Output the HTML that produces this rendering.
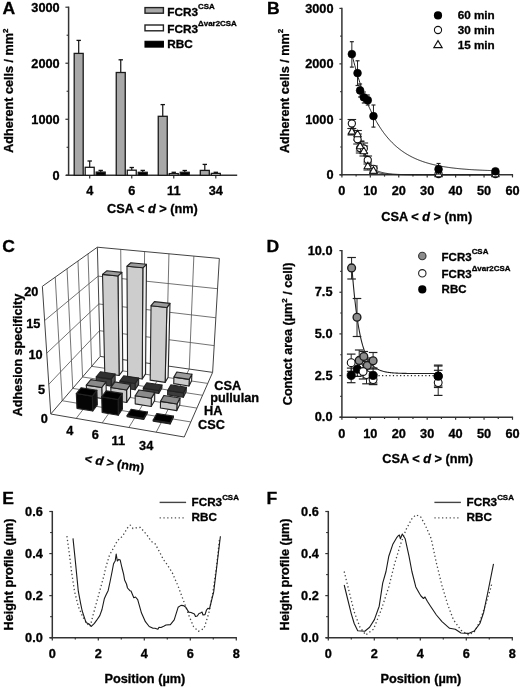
<!DOCTYPE html>
<html><head><meta charset="utf-8"><style>
html,body{margin:0;padding:0;background:#fff;}
svg{display:block;font-family:"Liberation Sans",sans-serif;filter:blur(0.3px);}
</style></head><body>
<svg width="520" height="687" viewBox="0 0 520 687" fill="#000">
<rect width="520" height="687" fill="#fff"/>
<line x1="68.6" y1="6.6" x2="68.6" y2="175.9" stroke="#333" stroke-width="1.5" />
<line x1="66" y1="175.3" x2="237.2" y2="175.3" stroke="#333" stroke-width="1.5" />
<line x1="65.4" y1="175.3" x2="68.6" y2="175.3" stroke="#333" stroke-width="1.2" />
<text transform="translate(59.7,179.7) scale(1.045,1)" font-size="12.2" text-anchor="end" font-weight="bold" stroke="#000" stroke-width="0.3" >0</text>
<line x1="65.4" y1="119.27" x2="68.6" y2="119.27" stroke="#333" stroke-width="1.2" />
<text transform="translate(59.7,123.67) scale(1.045,1)" font-size="12.2" text-anchor="end" font-weight="bold" stroke="#000" stroke-width="0.3" >1000</text>
<line x1="65.4" y1="63.23" x2="68.6" y2="63.23" stroke="#333" stroke-width="1.2" />
<text transform="translate(59.7,67.63) scale(1.045,1)" font-size="12.2" text-anchor="end" font-weight="bold" stroke="#000" stroke-width="0.3" >2000</text>
<line x1="65.4" y1="7.2" x2="68.6" y2="7.2" stroke="#333" stroke-width="1.2" />
<text transform="translate(59.7,11.6) scale(1.045,1)" font-size="12.2" text-anchor="end" font-weight="bold" stroke="#000" stroke-width="0.3" >3000</text>
<line x1="66.6" y1="147.28" x2="68.6" y2="147.28" stroke="#333" stroke-width="1.1" />
<line x1="66.6" y1="91.25" x2="68.6" y2="91.25" stroke="#333" stroke-width="1.1" />
<line x1="66.6" y1="35.22" x2="68.6" y2="35.22" stroke="#333" stroke-width="1.1" />
<line x1="89.7" y1="175.3" x2="89.7" y2="178.6" stroke="#333" stroke-width="1.2" />
<text transform="translate(89.7,195.2) scale(1.045,1)" font-size="12.2" text-anchor="middle" font-weight="bold" stroke="#000" stroke-width="0.3" >4</text>
<line x1="131.75" y1="175.3" x2="131.75" y2="178.6" stroke="#333" stroke-width="1.2" />
<text transform="translate(131.75,195.2) scale(1.045,1)" font-size="12.2" text-anchor="middle" font-weight="bold" stroke="#000" stroke-width="0.3" >6</text>
<line x1="173.75" y1="175.3" x2="173.75" y2="178.6" stroke="#333" stroke-width="1.2" />
<text transform="translate(173.75,195.2) scale(1.045,1)" font-size="12.2" text-anchor="middle" font-weight="bold" stroke="#000" stroke-width="0.3" >11</text>
<line x1="215.8" y1="175.3" x2="215.8" y2="178.6" stroke="#333" stroke-width="1.2" />
<text transform="translate(215.8,195.2) scale(1.045,1)" font-size="12.2" text-anchor="middle" font-weight="bold" stroke="#000" stroke-width="0.3" >34</text>
<line x1="78.7" y1="40.4" x2="78.7" y2="53.4" stroke="#111" stroke-width="1.2" />
<line x1="76.5" y1="40.4" x2="80.9" y2="40.4" stroke="#111" stroke-width="1.3" />
<rect x="74.2" y="53.4" width="9" height="121.9" fill="#a8a8a8" stroke="#1a1a1a" stroke-width="1.3"/>
<line x1="89.7" y1="161" x2="89.7" y2="167.3" stroke="#111" stroke-width="1.2" />
<line x1="87.5" y1="161" x2="91.9" y2="161" stroke="#111" stroke-width="1.3" />
<rect x="85.2" y="167.3" width="9" height="8" fill="#ffffff" stroke="#1a1a1a" stroke-width="1.3"/>
<line x1="100.7" y1="170.4" x2="100.7" y2="172.1" stroke="#111" stroke-width="1.2" />
<line x1="98.5" y1="170.4" x2="102.9" y2="170.4" stroke="#111" stroke-width="1.3" />
<rect x="96.2" y="172.1" width="9" height="3.2" fill="#000000" stroke="#1a1a1a" stroke-width="1.3"/>
<line x1="120.75" y1="59.8" x2="120.75" y2="72.5" stroke="#111" stroke-width="1.2" />
<line x1="118.55" y1="59.8" x2="122.95" y2="59.8" stroke="#111" stroke-width="1.3" />
<rect x="116.25" y="72.5" width="9" height="102.8" fill="#a8a8a8" stroke="#1a1a1a" stroke-width="1.3"/>
<line x1="131.75" y1="167.5" x2="131.75" y2="170.2" stroke="#111" stroke-width="1.2" />
<line x1="129.55" y1="167.5" x2="133.95" y2="167.5" stroke="#111" stroke-width="1.3" />
<rect x="127.25" y="170.2" width="9" height="5.1" fill="#ffffff" stroke="#1a1a1a" stroke-width="1.3"/>
<line x1="142.75" y1="170.4" x2="142.75" y2="172.3" stroke="#111" stroke-width="1.2" />
<line x1="140.55" y1="170.4" x2="144.95" y2="170.4" stroke="#111" stroke-width="1.3" />
<rect x="138.25" y="172.3" width="9" height="3" fill="#000000" stroke="#1a1a1a" stroke-width="1.3"/>
<line x1="162.75" y1="104.6" x2="162.75" y2="116.3" stroke="#111" stroke-width="1.2" />
<line x1="160.55" y1="104.6" x2="164.95" y2="104.6" stroke="#111" stroke-width="1.3" />
<rect x="158.25" y="116.3" width="9" height="59" fill="#a8a8a8" stroke="#1a1a1a" stroke-width="1.3"/>
<line x1="173.75" y1="172.3" x2="173.75" y2="173.6" stroke="#111" stroke-width="1.2" />
<line x1="171.55" y1="172.3" x2="175.95" y2="172.3" stroke="#111" stroke-width="1.3" />
<rect x="169.25" y="173.6" width="9" height="1.7" fill="#ffffff" stroke="#1a1a1a" stroke-width="1.3"/>
<line x1="184.75" y1="170.5" x2="184.75" y2="172.3" stroke="#111" stroke-width="1.2" />
<line x1="182.55" y1="170.5" x2="186.95" y2="170.5" stroke="#111" stroke-width="1.3" />
<rect x="180.25" y="172.3" width="9" height="3" fill="#000000" stroke="#1a1a1a" stroke-width="1.3"/>
<line x1="204.8" y1="164.4" x2="204.8" y2="170.4" stroke="#111" stroke-width="1.2" />
<line x1="202.6" y1="164.4" x2="207" y2="164.4" stroke="#111" stroke-width="1.3" />
<rect x="200.3" y="170.4" width="9" height="4.9" fill="#a8a8a8" stroke="#1a1a1a" stroke-width="1.3"/>
<line x1="215.8" y1="172.3" x2="215.8" y2="173.4" stroke="#111" stroke-width="1.2" />
<line x1="213.6" y1="172.3" x2="218" y2="172.3" stroke="#111" stroke-width="1.3" />
<rect x="211.3" y="173.4" width="9" height="1.9" fill="#ffffff" stroke="#1a1a1a" stroke-width="1.3"/>
<rect x="145" y="7.6" width="18.4" height="5.6" fill="#a8a8a8" stroke="#222" stroke-width="1.4"/>
<rect x="145" y="25" width="18.4" height="5.8" fill="#fff" stroke="#222" stroke-width="1.4"/>
<rect x="145" y="41.3" width="18.4" height="5.8" fill="#000" stroke="#000" stroke-width="1.1"/>
<text transform="translate(167.2,15.5) scale(1.045,1)" font-size="11.3" text-anchor="start" font-weight="bold" stroke="#000" stroke-width="0.3" >FCR3<tspan dy="-6.6" font-size="7.6">CSA</tspan></text>
<text transform="translate(167.2,32.7) scale(1.045,1)" font-size="11.3" text-anchor="start" font-weight="bold" stroke="#000" stroke-width="0.3" >FCR3<tspan dy="-6.6" font-size="7.6">&#916;var2CSA</tspan></text>
<text transform="translate(167.2,47.7) scale(1.045,1)" font-size="11.3" text-anchor="start" font-weight="bold" stroke="#000" stroke-width="0.3" >RBC</text>
<text transform="translate(2.4,13.6) scale(1.045,1)" font-size="16.8" text-anchor="start" font-weight="bold" stroke="#000" stroke-width="0.3" >A</text>
<text transform="translate(13.2,152.8) rotate(-90)" font-size="12.6" font-weight="bold" stroke="#000" stroke-width="0.3">Adherent cells / mm<tspan dy="-5.5" font-size="8">2</tspan></text>
<text transform="translate(152.4,213) scale(1.045,1)" font-size="12.2" text-anchor="middle" font-weight="bold" stroke="#000" stroke-width="0.3" >CSA &lt; <tspan font-style="italic">d</tspan> &gt; (nm)</text>
<line x1="341.9" y1="7.8" x2="341.9" y2="175.4" stroke="#333" stroke-width="1.5" />
<line x1="339.6" y1="174.8" x2="513.08" y2="174.8" stroke="#333" stroke-width="1.5" />
<line x1="339.4" y1="174.8" x2="341.9" y2="174.8" stroke="#333" stroke-width="1.2" />
<text transform="translate(333.5,179.1) scale(1.045,1)" font-size="12.2" text-anchor="end" font-weight="bold" stroke="#000" stroke-width="0.3" >0</text>
<line x1="339.4" y1="119.33" x2="341.9" y2="119.33" stroke="#333" stroke-width="1.2" />
<text transform="translate(333.5,123.63) scale(1.045,1)" font-size="12.2" text-anchor="end" font-weight="bold" stroke="#000" stroke-width="0.3" >1000</text>
<line x1="339.4" y1="63.87" x2="341.9" y2="63.87" stroke="#333" stroke-width="1.2" />
<text transform="translate(333.5,68.17) scale(1.045,1)" font-size="12.2" text-anchor="end" font-weight="bold" stroke="#000" stroke-width="0.3" >2000</text>
<line x1="339.4" y1="8.4" x2="341.9" y2="8.4" stroke="#333" stroke-width="1.2" />
<text transform="translate(333.5,12.7) scale(1.045,1)" font-size="12.2" text-anchor="end" font-weight="bold" stroke="#000" stroke-width="0.3" >3000</text>
<line x1="340.2" y1="147.07" x2="341.9" y2="147.07" stroke="#333" stroke-width="1.1" />
<line x1="340.2" y1="91.6" x2="341.9" y2="91.6" stroke="#333" stroke-width="1.1" />
<line x1="340.2" y1="36.13" x2="341.9" y2="36.13" stroke="#333" stroke-width="1.1" />
<line x1="341.9" y1="174.8" x2="341.9" y2="177.4" stroke="#333" stroke-width="1.2" />
<text transform="translate(341.9,195.2) scale(1.045,1)" font-size="12.2" text-anchor="middle" font-weight="bold" stroke="#000" stroke-width="0.3" >0</text>
<line x1="356.11" y1="174.8" x2="356.11" y2="176.6" stroke="#333" stroke-width="1.2" />
<line x1="370.33" y1="174.8" x2="370.33" y2="177.4" stroke="#333" stroke-width="1.2" />
<text transform="translate(370.33,195.2) scale(1.045,1)" font-size="12.2" text-anchor="middle" font-weight="bold" stroke="#000" stroke-width="0.3" >10</text>
<line x1="384.54" y1="174.8" x2="384.54" y2="176.6" stroke="#333" stroke-width="1.2" />
<line x1="398.76" y1="174.8" x2="398.76" y2="177.4" stroke="#333" stroke-width="1.2" />
<text transform="translate(398.76,195.2) scale(1.045,1)" font-size="12.2" text-anchor="middle" font-weight="bold" stroke="#000" stroke-width="0.3" >20</text>
<line x1="412.97" y1="174.8" x2="412.97" y2="176.6" stroke="#333" stroke-width="1.2" />
<line x1="427.19" y1="174.8" x2="427.19" y2="177.4" stroke="#333" stroke-width="1.2" />
<text transform="translate(427.19,195.2) scale(1.045,1)" font-size="12.2" text-anchor="middle" font-weight="bold" stroke="#000" stroke-width="0.3" >30</text>
<line x1="441.4" y1="174.8" x2="441.4" y2="176.6" stroke="#333" stroke-width="1.2" />
<line x1="455.62" y1="174.8" x2="455.62" y2="177.4" stroke="#333" stroke-width="1.2" />
<text transform="translate(455.62,195.2) scale(1.045,1)" font-size="12.2" text-anchor="middle" font-weight="bold" stroke="#000" stroke-width="0.3" >40</text>
<line x1="469.83" y1="174.8" x2="469.83" y2="176.6" stroke="#333" stroke-width="1.2" />
<line x1="484.05" y1="174.8" x2="484.05" y2="177.4" stroke="#333" stroke-width="1.2" />
<text transform="translate(484.05,195.2) scale(1.045,1)" font-size="12.2" text-anchor="middle" font-weight="bold" stroke="#000" stroke-width="0.3" >50</text>
<line x1="498.26" y1="174.8" x2="498.26" y2="176.6" stroke="#333" stroke-width="1.2" />
<line x1="512.48" y1="174.8" x2="512.48" y2="177.4" stroke="#333" stroke-width="1.2" />
<text transform="translate(512.48,195.2) scale(1.045,1)" font-size="12.2" text-anchor="middle" font-weight="bold" stroke="#000" stroke-width="0.3" >60</text>
<text transform="translate(426.7,220.7) scale(1.045,1)" font-size="12.2" text-anchor="middle" font-weight="bold" stroke="#000" stroke-width="0.3" >CSA &lt; <tspan font-style="italic">d</tspan> &gt; (nm)</text>
<text transform="translate(288.9,153) rotate(-90)" font-size="12.6" font-weight="bold" stroke="#000" stroke-width="0.3">Adherent cells / mm<tspan dy="-5.5" font-size="8">2</tspan></text>
<text transform="translate(267,13.8) scale(1.045,1)" font-size="16.8" text-anchor="start" font-weight="bold" stroke="#000" stroke-width="0.3" >B</text>
<path d="M351.85,123.5 L357.54,139.2 L360.1,148.1 L363.79,150.5 L367.77,160 L373.46,168.8 L374.88,169.68 L375.69,170.11 L376.5,170.51 L377.31,170.88 L378.11,171.21 L378.92,171.52 L379.73,171.79 L380.54,172.05 L381.35,172.28 L382.16,172.5 L382.97,172.69 L383.78,172.87 L384.59,173.04 L385.4,173.19 L386.21,173.32 L387.01,173.45 L387.82,173.56 L388.63,173.67 L389.44,173.77 L390.25,173.85 L391.06,173.93 L391.87,174.01 L392.68,174.08 L393.49,174.14 L394.3,174.19 L395.1,174.25 L395.91,174.29 L396.72,174.34 L397.53,174.38 L398.34,174.41 L399.15,174.44 L399.96,174.47 L400.77,174.5 L401.58,174.53 L402.39,174.55 L403.19,174.57 L404,174.59 L404.81,174.61 L405.62,174.63 L406.43,174.64 L407.24,174.65 L408.05,174.67 L408.86,174.68 L409.67,174.69 L410.48,174.7 L411.28,174.71 L412.09,174.71 L412.9,174.72 L413.71,174.73 L414.52,174.73 L415.33,174.74 L416.14,174.75 L416.95,174.75 L417.76,174.75 L418.57,174.76 L419.37,174.76 L420.18,174.76 L420.99,174.77 L421.8,174.77 L422.61,174.77 L423.42,174.78 L424.23,174.78 L425.04,174.78 L425.85,174.78 L426.66,174.78 L427.46,174.78 L428.27,174.79 L429.08,174.79 L429.89,174.79 L430.7,174.79 L431.51,174.79 L432.32,174.79 L433.13,174.79 L433.94,174.79 L434.75,174.79 L435.55,174.79 L436.36,174.79 L437.17,174.79 L437.98,174.8 L438.79,174.8 L439.6,174.8 L440.41,174.8 L441.22,174.8 L442.03,174.8 L442.84,174.8 L443.65,174.8 L444.45,174.8 L445.26,174.8 L446.07,174.8 L446.88,174.8 L447.69,174.8 L448.5,174.8 L449.31,174.8 L450.12,174.8 L450.93,174.8 L451.74,174.8 L452.54,174.8 L453.35,174.8 L454.16,174.8 L454.97,174.8 L455.78,174.8 L456.59,174.8 L457.4,174.8 L458.21,174.8 L459.02,174.8 L459.83,174.8 L460.63,174.8 L461.44,174.8 L462.25,174.8 L463.06,174.8 L463.87,174.8 L464.68,174.8 L465.49,174.8 L466.3,174.8 L467.11,174.8 L467.92,174.8 L468.72,174.8 L469.53,174.8 L470.34,174.8 L471.15,174.8 L471.96,174.8 L472.77,174.8 L473.58,174.8 L474.39,174.8 L475.2,174.8 L476.01,174.8 L476.81,174.8 L477.62,174.8 L478.43,174.8 L479.24,174.8 L480.05,174.8 L480.86,174.8 L481.67,174.8 L482.48,174.8 L483.29,174.8 L484.1,174.8 L484.9,174.8 L485.71,174.8 L486.52,174.8 L487.33,174.8 L488.14,174.8 L488.95,174.8 L489.76,174.8 L490.57,174.8 L491.38,174.8 L492.19,174.8 L492.99,174.8 L493.8,174.8 L494.61,174.8 L495.42,174.8" fill="none" stroke="#222" stroke-width="1.0" stroke-linejoin="round" />
<path d="M351.85,131.6 L357.54,134.3 L360.1,146.2 L363.79,151.2 L367.77,166.2 L373.46,170.8 L374.88,171.51 L375.69,171.85 L376.5,172.15 L377.31,172.43 L378.11,172.67 L378.92,172.89 L379.73,173.09 L380.54,173.27 L381.35,173.43 L382.16,173.57 L382.97,173.7 L383.78,173.81 L384.59,173.91 L385.4,174.01 L386.21,174.09 L387.01,174.16 L387.82,174.23 L388.63,174.29 L389.44,174.34 L390.25,174.39 L391.06,174.43 L391.87,174.47 L392.68,174.5 L393.49,174.53 L394.3,174.56 L395.1,174.59 L395.91,174.61 L396.72,174.63 L397.53,174.65 L398.34,174.66 L399.15,174.68 L399.96,174.69 L400.77,174.7 L401.58,174.71 L402.39,174.72 L403.19,174.73 L404,174.74 L404.81,174.74 L405.62,174.75 L406.43,174.75 L407.24,174.76 L408.05,174.76 L408.86,174.77 L409.67,174.77 L410.48,174.77 L411.28,174.78 L412.09,174.78 L412.9,174.78 L413.71,174.78 L414.52,174.78 L415.33,174.79 L416.14,174.79 L416.95,174.79 L417.76,174.79 L418.57,174.79 L419.37,174.79 L420.18,174.79 L420.99,174.79 L421.8,174.79 L422.61,174.79 L423.42,174.8 L424.23,174.8 L425.04,174.8 L425.85,174.8 L426.66,174.8 L427.46,174.8 L428.27,174.8 L429.08,174.8 L429.89,174.8 L430.7,174.8 L431.51,174.8 L432.32,174.8 L433.13,174.8 L433.94,174.8 L434.75,174.8 L435.55,174.8 L436.36,174.8 L437.17,174.8 L437.98,174.8 L438.79,174.8 L439.6,174.8 L440.41,174.8 L441.22,174.8 L442.03,174.8 L442.84,174.8 L443.65,174.8 L444.45,174.8 L445.26,174.8 L446.07,174.8 L446.88,174.8 L447.69,174.8 L448.5,174.8 L449.31,174.8 L450.12,174.8 L450.93,174.8 L451.74,174.8 L452.54,174.8 L453.35,174.8 L454.16,174.8 L454.97,174.8 L455.78,174.8 L456.59,174.8 L457.4,174.8 L458.21,174.8 L459.02,174.8 L459.83,174.8 L460.63,174.8 L461.44,174.8 L462.25,174.8 L463.06,174.8 L463.87,174.8 L464.68,174.8 L465.49,174.8 L466.3,174.8 L467.11,174.8 L467.92,174.8 L468.72,174.8 L469.53,174.8 L470.34,174.8 L471.15,174.8 L471.96,174.8 L472.77,174.8 L473.58,174.8 L474.39,174.8 L475.2,174.8 L476.01,174.8 L476.81,174.8 L477.62,174.8 L478.43,174.8 L479.24,174.8 L480.05,174.8 L480.86,174.8 L481.67,174.8 L482.48,174.8 L483.29,174.8 L484.1,174.8 L484.9,174.8 L485.71,174.8 L486.52,174.8 L487.33,174.8 L488.14,174.8 L488.95,174.8 L489.76,174.8 L490.57,174.8 L491.38,174.8 L492.19,174.8 L492.99,174.8 L493.8,174.8 L494.61,174.8 L495.42,174.8" fill="none" stroke="#222" stroke-width="1.0" stroke-linejoin="round" />
<path d="M351.85,53.99 L352.57,56.91 L353.29,59.75 L354.01,62.52 L354.74,65.23 L355.46,67.86 L356.18,70.43 L356.9,72.94 L357.62,75.39 L358.34,77.77 L359.07,80.09 L359.79,82.36 L360.51,84.57 L361.23,86.73 L361.95,88.83 L362.67,90.88 L363.39,92.88 L364.12,94.83 L364.84,96.73 L365.56,98.59 L366.28,100.4 L367,102.16 L367.72,103.88 L368.44,105.56 L369.17,107.19 L369.89,108.79 L370.61,110.34 L371.33,111.86 L372.05,113.34 L372.77,114.78 L373.49,116.19 L374.22,117.56 L374.94,118.9 L375.66,120.2 L376.38,121.47 L377.1,122.71 L377.82,123.92 L378.54,125.1 L379.27,126.25 L379.99,127.38 L380.71,128.47 L381.43,129.54 L382.15,130.58 L382.87,131.59 L383.59,132.58 L384.32,133.55 L385.04,134.49 L385.76,135.41 L386.48,136.3 L387.2,137.17 L387.92,138.02 L388.65,138.85 L389.37,139.66 L390.09,140.45 L390.81,141.22 L391.53,141.97 L392.25,142.71 L392.97,143.42 L393.7,144.12 L394.42,144.79 L395.14,145.46 L395.86,146.1 L396.58,146.73 L397.3,147.34 L398.02,147.94 L398.75,148.53 L399.47,149.1 L400.19,149.65 L400.91,150.19 L401.63,150.72 L402.35,151.24 L403.07,151.74 L403.8,152.23 L404.52,152.71 L405.24,153.17 L405.96,153.63 L406.68,154.07 L407.4,154.5 L408.12,154.92 L408.85,155.33 L409.57,155.73 L410.29,156.12 L411.01,156.5 L411.73,156.87 L412.45,157.24 L413.18,157.59 L413.9,157.93 L414.62,158.27 L415.34,158.6 L416.06,158.92 L416.78,159.23 L417.5,159.53 L418.23,159.83 L418.95,160.12 L419.67,160.4 L420.39,160.67 L421.11,160.94 L421.83,161.2 L422.55,161.46 L423.28,161.71 L424,161.95 L424.72,162.19 L425.44,162.42 L426.16,162.64 L426.88,162.86 L427.6,163.07 L428.33,163.28 L429.05,163.49 L429.77,163.68 L430.49,163.88 L431.21,164.06 L431.93,164.25 L432.65,164.43 L433.38,164.6 L434.1,164.77 L434.82,164.94 L435.54,165.1 L436.26,165.26 L436.98,165.41 L437.7,165.56 L438.43,165.71 L439.15,165.85 L439.87,165.99 L440.59,166.13 L441.31,166.26 L442.03,166.39 L442.76,166.52 L443.48,166.64 L444.2,166.76 L444.92,166.88 L445.64,166.99 L446.36,167.1 L447.08,167.21 L447.81,167.32 L448.53,167.42 L449.25,167.52 L449.97,167.62 L450.69,167.71 L451.41,167.81 L452.13,167.9 L452.86,167.99 L453.58,168.07 L454.3,168.16 L455.02,168.24 L455.74,168.32 L456.46,168.4 L457.18,168.47 L457.91,168.55 L458.63,168.62 L459.35,168.69 L460.07,168.76 L460.79,168.83 L461.51,168.89 L462.23,168.96 L462.96,169.02 L463.68,169.08 L464.4,169.14 L465.12,169.2 L465.84,169.25 L466.56,169.31 L467.28,169.36 L468.01,169.42 L468.73,169.47 L469.45,169.52 L470.17,169.56 L470.89,169.61 L471.61,169.66 L472.34,169.7 L473.06,169.75 L473.78,169.79 L474.5,169.83 L475.22,169.87 L475.94,169.91 L476.66,169.95 L477.39,169.99 L478.11,170.03 L478.83,170.06 L479.55,170.1 L480.27,170.13 L480.99,170.16 L481.71,170.2 L482.44,170.23 L483.16,170.26 L483.88,170.29 L484.6,170.32 L485.32,170.35 L486.04,170.37 L486.76,170.4 L487.49,170.43 L488.21,170.45 L488.93,170.48 L489.65,170.5 L490.37,170.53 L491.09,170.55 L491.81,170.57 L492.54,170.6 L493.26,170.62 L493.98,170.64 L494.7,170.66 L495.42,170.68" fill="none" stroke="#222" stroke-width="1.0" stroke-linejoin="round" />
<line x1="351.85" y1="128.5" x2="351.85" y2="135" stroke="#222" stroke-width="0.9" />
<line x1="347.55" y1="128.5" x2="356.15" y2="128.5" stroke="#222" stroke-width="1.1" />
<line x1="347.55" y1="135" x2="356.15" y2="135" stroke="#222" stroke-width="1.1" />
<line x1="351.85" y1="119.5" x2="351.85" y2="128.5" stroke="#222" stroke-width="0.9" />
<line x1="347.55" y1="119.5" x2="356.15" y2="119.5" stroke="#222" stroke-width="1.1" />
<line x1="347.55" y1="128.5" x2="356.15" y2="128.5" stroke="#222" stroke-width="1.1" />
<line x1="357.54" y1="130.5" x2="357.54" y2="140" stroke="#222" stroke-width="0.9" />
<line x1="353.24" y1="130.5" x2="361.84" y2="130.5" stroke="#222" stroke-width="1.1" />
<line x1="353.24" y1="140" x2="361.84" y2="140" stroke="#222" stroke-width="1.1" />
<line x1="357.54" y1="134" x2="357.54" y2="144" stroke="#222" stroke-width="0.9" />
<line x1="353.24" y1="134" x2="361.84" y2="134" stroke="#222" stroke-width="1.1" />
<line x1="353.24" y1="144" x2="361.84" y2="144" stroke="#222" stroke-width="1.1" />
<line x1="360.1" y1="141.5" x2="360.1" y2="151" stroke="#222" stroke-width="0.9" />
<line x1="355.8" y1="141.5" x2="364.4" y2="141.5" stroke="#222" stroke-width="1.1" />
<line x1="355.8" y1="151" x2="364.4" y2="151" stroke="#222" stroke-width="1.1" />
<line x1="360.1" y1="141" x2="360.1" y2="153" stroke="#222" stroke-width="0.9" />
<line x1="355.8" y1="141" x2="364.4" y2="141" stroke="#222" stroke-width="1.1" />
<line x1="355.8" y1="153" x2="364.4" y2="153" stroke="#222" stroke-width="1.1" />
<line x1="363.79" y1="146" x2="363.79" y2="156" stroke="#222" stroke-width="0.9" />
<line x1="359.49" y1="146" x2="368.09" y2="146" stroke="#222" stroke-width="1.1" />
<line x1="359.49" y1="156" x2="368.09" y2="156" stroke="#222" stroke-width="1.1" />
<line x1="363.79" y1="143" x2="363.79" y2="153" stroke="#222" stroke-width="0.9" />
<line x1="359.49" y1="143" x2="368.09" y2="143" stroke="#222" stroke-width="1.1" />
<line x1="359.49" y1="153" x2="368.09" y2="153" stroke="#222" stroke-width="1.1" />
<line x1="367.77" y1="162" x2="367.77" y2="170" stroke="#222" stroke-width="0.9" />
<line x1="363.47" y1="162" x2="372.07" y2="162" stroke="#222" stroke-width="1.1" />
<line x1="363.47" y1="170" x2="372.07" y2="170" stroke="#222" stroke-width="1.1" />
<line x1="367.77" y1="156" x2="367.77" y2="164" stroke="#222" stroke-width="0.9" />
<line x1="363.47" y1="156" x2="372.07" y2="156" stroke="#222" stroke-width="1.1" />
<line x1="363.47" y1="164" x2="372.07" y2="164" stroke="#222" stroke-width="1.1" />
<line x1="373.46" y1="168" x2="373.46" y2="173.5" stroke="#222" stroke-width="0.9" />
<line x1="369.16" y1="168" x2="377.76" y2="168" stroke="#222" stroke-width="1.1" />
<line x1="369.16" y1="173.5" x2="377.76" y2="173.5" stroke="#222" stroke-width="1.1" />
<line x1="373.46" y1="166" x2="373.46" y2="172" stroke="#222" stroke-width="0.9" />
<line x1="369.16" y1="166" x2="377.76" y2="166" stroke="#222" stroke-width="1.1" />
<line x1="369.16" y1="172" x2="377.76" y2="172" stroke="#222" stroke-width="1.1" />
<circle cx="351.85" cy="123.5" r="3.6" fill="#fff" stroke="#111" stroke-width="1.1"/>
<circle cx="357.54" cy="139.2" r="3.6" fill="#fff" stroke="#111" stroke-width="1.1"/>
<circle cx="360.1" cy="148.1" r="3.6" fill="#fff" stroke="#111" stroke-width="1.1"/>
<circle cx="363.79" cy="148.5" r="3.6" fill="#fff" stroke="#111" stroke-width="1.1"/>
<circle cx="367.77" cy="160" r="3.6" fill="#fff" stroke="#111" stroke-width="1.1"/>
<circle cx="373.46" cy="168.8" r="3.6" fill="#fff" stroke="#111" stroke-width="1.1"/>
<circle cx="438.56" cy="174" r="3.6" fill="#fff" stroke="#111" stroke-width="1.1"/>
<circle cx="495.42" cy="174" r="3.6" fill="#fff" stroke="#111" stroke-width="1.1"/>
<polygon points="351.85,127.4 355.63,134.12 348.07,134.12" fill="#fff" stroke="#111" stroke-width="1.1" stroke-linejoin="round" />
<polygon points="357.54,130.1 361.32,136.82 353.76,136.82" fill="#fff" stroke="#111" stroke-width="1.1" stroke-linejoin="round" />
<polygon points="360.1,142 363.88,148.72 356.32,148.72" fill="#fff" stroke="#111" stroke-width="1.1" stroke-linejoin="round" />
<polygon points="363.79,147 367.57,153.72 360.01,153.72" fill="#fff" stroke="#111" stroke-width="1.1" stroke-linejoin="round" />
<polygon points="367.77,162 371.55,168.72 363.99,168.72" fill="#fff" stroke="#111" stroke-width="1.1" stroke-linejoin="round" />
<polygon points="373.46,166.6 377.24,173.32 369.68,173.32" fill="#fff" stroke="#111" stroke-width="1.1" stroke-linejoin="round" />
<polygon points="438.56,170 442.34,176.72 434.78,176.72" fill="#fff" stroke="#111" stroke-width="1.1" stroke-linejoin="round" />
<polygon points="495.42,170 499.2,176.72 491.64,176.72" fill="#fff" stroke="#111" stroke-width="1.1" stroke-linejoin="round" />
<line x1="351.85" y1="41.7" x2="351.85" y2="67.1" stroke="#222" stroke-width="1.0" />
<line x1="349.85" y1="41.7" x2="353.85" y2="41.7" stroke="#222" stroke-width="1.2" />
<line x1="349.85" y1="67.1" x2="353.85" y2="67.1" stroke="#222" stroke-width="1.2" />
<line x1="357.54" y1="60.8" x2="357.54" y2="85.5" stroke="#222" stroke-width="1.0" />
<line x1="355.54" y1="60.8" x2="359.54" y2="60.8" stroke="#222" stroke-width="1.2" />
<line x1="355.54" y1="85.5" x2="359.54" y2="85.5" stroke="#222" stroke-width="1.2" />
<line x1="360.1" y1="84" x2="360.1" y2="97" stroke="#222" stroke-width="1.0" />
<line x1="358.1" y1="84" x2="362.1" y2="84" stroke="#222" stroke-width="1.2" />
<line x1="358.1" y1="97" x2="362.1" y2="97" stroke="#222" stroke-width="1.2" />
<line x1="363.79" y1="92" x2="363.79" y2="103" stroke="#222" stroke-width="1.0" />
<line x1="361.79" y1="92" x2="365.79" y2="92" stroke="#222" stroke-width="1.2" />
<line x1="361.79" y1="103" x2="365.79" y2="103" stroke="#222" stroke-width="1.2" />
<line x1="367.77" y1="95" x2="367.77" y2="105" stroke="#222" stroke-width="1.0" />
<line x1="365.77" y1="95" x2="369.77" y2="95" stroke="#222" stroke-width="1.2" />
<line x1="365.77" y1="105" x2="369.77" y2="105" stroke="#222" stroke-width="1.2" />
<line x1="373.46" y1="105" x2="373.46" y2="127.1" stroke="#222" stroke-width="1.0" />
<line x1="371.46" y1="105" x2="375.46" y2="105" stroke="#222" stroke-width="1.2" />
<line x1="371.46" y1="127.1" x2="375.46" y2="127.1" stroke="#222" stroke-width="1.2" />
<line x1="438.56" y1="163.5" x2="438.56" y2="174" stroke="#222" stroke-width="1.0" />
<line x1="436.56" y1="163.5" x2="440.56" y2="163.5" stroke="#222" stroke-width="1.2" />
<line x1="436.56" y1="174" x2="440.56" y2="174" stroke="#222" stroke-width="1.2" />
<line x1="495.42" y1="169" x2="495.42" y2="173" stroke="#222" stroke-width="1.0" />
<line x1="493.42" y1="169" x2="497.42" y2="169" stroke="#222" stroke-width="1.2" />
<line x1="493.42" y1="173" x2="497.42" y2="173" stroke="#222" stroke-width="1.2" />
<circle cx="351.85" cy="54.1" r="3.9" fill="#000" stroke="#000" stroke-width="0.6"/>
<circle cx="357.54" cy="73.1" r="3.9" fill="#000" stroke="#000" stroke-width="0.6"/>
<circle cx="360.1" cy="90.4" r="3.9" fill="#000" stroke="#000" stroke-width="0.6"/>
<circle cx="363.79" cy="97.3" r="3.9" fill="#000" stroke="#000" stroke-width="0.6"/>
<circle cx="367.77" cy="100.2" r="3.9" fill="#000" stroke="#000" stroke-width="0.6"/>
<circle cx="373.46" cy="116.1" r="3.9" fill="#000" stroke="#000" stroke-width="0.6"/>
<circle cx="438.56" cy="169.2" r="3.9" fill="#000" stroke="#000" stroke-width="0.6"/>
<circle cx="495.42" cy="171.3" r="3.9" fill="#000" stroke="#000" stroke-width="0.6"/>
<circle cx="438" cy="15.4" r="4.1" fill="#000"/>
<circle cx="438" cy="30" r="3.6" fill="#fff" stroke="#111" stroke-width="1.1"/>
<polygon points="438,40.6 442.2,47.6 433.8,47.6" fill="#fff" stroke="#111" stroke-width="1.1"/>
<text transform="translate(457.7,19.3) scale(1.045,1)" font-size="11.2" text-anchor="start" font-weight="bold" stroke="#000" stroke-width="0.3" >60 min</text>
<text transform="translate(457.7,34.3) scale(1.045,1)" font-size="11.2" text-anchor="start" font-weight="bold" stroke="#000" stroke-width="0.3" >30 min</text>
<text transform="translate(457.7,49) scale(1.045,1)" font-size="11.2" text-anchor="start" font-weight="bold" stroke="#000" stroke-width="0.3" >15 min</text>
<text transform="translate(2.2,252.2) scale(1.045,1)" font-size="16.8" text-anchor="start" font-weight="bold" stroke="#000" stroke-width="0.3" >C</text>
<line x1="48.81" y1="384.32" x2="99.53" y2="330.69" stroke="#5a5a5a" stroke-width="0.85" />
<line x1="99.53" y1="330.69" x2="214.2" y2="345.62" stroke="#5a5a5a" stroke-width="0.85" />
<line x1="46.76" y1="353.2" x2="98.84" y2="303.96" stroke="#5a5a5a" stroke-width="0.85" />
<line x1="98.84" y1="303.96" x2="215.84" y2="317.76" stroke="#5a5a5a" stroke-width="0.85" />
<line x1="44.62" y1="320.57" x2="98.12" y2="276.15" stroke="#5a5a5a" stroke-width="0.85" />
<line x1="98.12" y1="276.15" x2="217.55" y2="288.73" stroke="#5a5a5a" stroke-width="0.85" />
<line x1="62.18" y1="400.72" x2="55.24" y2="277.16" stroke="#5a5a5a" stroke-width="0.85" />
<line x1="62.18" y1="400.72" x2="190.83" y2="421.95" stroke="#5a5a5a" stroke-width="0.85" />
<line x1="72.75" y1="388.4" x2="67.06" y2="268.75" stroke="#5a5a5a" stroke-width="0.85" />
<line x1="72.75" y1="388.4" x2="196.92" y2="408.09" stroke="#5a5a5a" stroke-width="0.85" />
<line x1="82.56" y1="376.97" x2="77.96" y2="261.01" stroke="#5a5a5a" stroke-width="0.85" />
<line x1="82.56" y1="376.97" x2="202.55" y2="395.28" stroke="#5a5a5a" stroke-width="0.85" />
<line x1="91.68" y1="366.34" x2="88.03" y2="253.85" stroke="#5a5a5a" stroke-width="0.85" />
<line x1="91.68" y1="366.34" x2="207.77" y2="383.41" stroke="#5a5a5a" stroke-width="0.85" />
<line x1="121.79" y1="359.49" x2="120.72" y2="249.36" stroke="#5a5a5a" stroke-width="0.85" />
<line x1="76.18" y1="418.4" x2="121.79" y2="359.49" stroke="#5a5a5a" stroke-width="0.85" />
<line x1="143.82" y1="362.61" x2="144.58" y2="251.55" stroke="#5a5a5a" stroke-width="0.85" />
<line x1="102.21" y1="422.89" x2="143.82" y2="362.61" stroke="#5a5a5a" stroke-width="0.85" />
<line x1="166.29" y1="365.8" x2="168.95" y2="253.8" stroke="#5a5a5a" stroke-width="0.85" />
<line x1="128.88" y1="427.48" x2="166.29" y2="365.8" stroke="#5a5a5a" stroke-width="0.85" />
<line x1="189.22" y1="369.06" x2="193.87" y2="256.09" stroke="#5a5a5a" stroke-width="0.85" />
<line x1="156.21" y1="432.18" x2="189.22" y2="369.06" stroke="#5a5a5a" stroke-width="0.85" />
<line x1="42.37" y1="286.31" x2="97.37" y2="247.21" stroke="#444" stroke-width="1.0" />
<line x1="97.37" y1="247.21" x2="219.34" y2="258.44" stroke="#444" stroke-width="1.0" />
<line x1="100.19" y1="356.42" x2="97.37" y2="247.21" stroke="#444" stroke-width="1.0" />
<line x1="212.62" y1="372.38" x2="219.34" y2="258.44" stroke="#444" stroke-width="1.0" />
<line x1="50.76" y1="414.03" x2="100.19" y2="356.42" stroke="#444" stroke-width="1.0" />
<line x1="100.19" y1="356.42" x2="212.62" y2="372.38" stroke="#444" stroke-width="1.0" />
<line x1="184.21" y1="437" x2="212.62" y2="372.38" stroke="#444" stroke-width="1.0" />
<line x1="50.76" y1="414.03" x2="184.21" y2="437" stroke="#444" stroke-width="1.0" />
<line x1="50.76" y1="414.03" x2="42.37" y2="286.31" stroke="#444" stroke-width="1.0" />
<polygon points="119.12,375.5 122.79,370.55 121.9,272.38 117.94,275.96" fill="#f0f0f0" stroke="#222" stroke-width="1.1" stroke-linejoin="round" />
<polygon points="104.77,373.36 119.12,375.5 117.94,275.96 102.52,274.35" fill="#cdcdcd" stroke="#222" stroke-width="1.1" stroke-linejoin="round" />
<polygon points="102.52,274.35 117.94,275.96 121.9,272.38 106.73,270.82" fill="#9c9c9c" stroke="#222" stroke-width="1.1" stroke-linejoin="round" />
<polygon points="142.22,378.95 145.56,373.89 146.45,264.31 142.85,267.81" fill="#f0f0f0" stroke="#222" stroke-width="1.1" stroke-linejoin="round" />
<polygon points="127.58,376.77 142.22,378.95 142.85,267.81 126.97,266.23" fill="#cdcdcd" stroke="#222" stroke-width="1.1" stroke-linejoin="round" />
<polygon points="126.97,266.23 142.85,267.81 146.45,264.31 130.83,262.78" fill="#9c9c9c" stroke="#222" stroke-width="1.1" stroke-linejoin="round" />
<polygon points="165.12,382.37 168.11,377.21 169.98,303.4 166.86,307.55" fill="#f0f0f0" stroke="#222" stroke-width="1.1" stroke-linejoin="round" />
<polygon points="150.18,380.14 165.12,382.37 166.86,307.55 151.05,305.71" fill="#cdcdcd" stroke="#222" stroke-width="1.1" stroke-linejoin="round" />
<polygon points="151.05,305.71 166.86,307.55 169.98,303.4 154.43,301.63" fill="#9c9c9c" stroke="#222" stroke-width="1.1" stroke-linejoin="round" />
<polygon points="188.99,385.94 191.6,380.66 191.88,374.17 189.26,379.36" fill="#f0f0f0" stroke="#222" stroke-width="1.1" stroke-linejoin="round" />
<polygon points="173.72,383.66 188.99,385.94 189.26,379.36 173.92,377.12" fill="#cdcdcd" stroke="#222" stroke-width="1.1" stroke-linejoin="round" />
<polygon points="173.92,377.12 189.26,379.36 191.88,374.17 176.78,371.99" fill="#9c9c9c" stroke="#222" stroke-width="1.1" stroke-linejoin="round" />
<polygon points="111.24,386.12 115.17,380.82 115.07,373.95 111.11,379.16" fill="#555" stroke="#222" stroke-width="1.1" stroke-linejoin="round" />
<polygon points="96.45,383.83 111.24,386.12 111.11,379.16 96.24,376.91" fill="#3c3c3c" stroke="#222" stroke-width="1.1" stroke-linejoin="round" />
<polygon points="96.24,376.91 111.11,379.16 115.07,373.95 100.42,371.77" fill="#303030" stroke="#222" stroke-width="1.1" stroke-linejoin="round" />
<polygon points="135.07,389.81 138.64,384.39 138.66,378.12 135.07,383.46" fill="#555" stroke="#222" stroke-width="1.1" stroke-linejoin="round" />
<polygon points="119.96,387.47 135.07,389.81 135.07,383.46 119.89,381.15" fill="#3c3c3c" stroke="#222" stroke-width="1.1" stroke-linejoin="round" />
<polygon points="119.89,381.15 135.07,383.46 138.66,378.12 123.71,375.89" fill="#303030" stroke="#222" stroke-width="1.1" stroke-linejoin="round" />
<polygon points="158.71,393.47 161.91,387.93 161.98,384.98 158.77,390.48" fill="#555" stroke="#222" stroke-width="1.1" stroke-linejoin="round" />
<polygon points="143.28,391.08 158.71,393.47 158.77,390.48 143.3,388.1" fill="#3c3c3c" stroke="#222" stroke-width="1.1" stroke-linejoin="round" />
<polygon points="143.3,388.1 158.77,390.48 161.98,384.98 146.75,382.68" fill="#303030" stroke="#222" stroke-width="1.1" stroke-linejoin="round" />
<polygon points="183.36,397.28 186.17,391.62 186.34,387.24 183.53,392.85" fill="#555" stroke="#222" stroke-width="1.1" stroke-linejoin="round" />
<polygon points="167.59,394.84 183.36,397.28 183.53,392.85 167.7,390.43" fill="#3c3c3c" stroke="#222" stroke-width="1.1" stroke-linejoin="round" />
<polygon points="167.7,390.43 183.53,392.85 186.34,387.24 170.77,384.91" fill="#303030" stroke="#222" stroke-width="1.1" stroke-linejoin="round" />
<polygon points="102.01,398.55 106.26,392.83 106.02,381.93 101.73,387.51" fill="#e6e6e6" stroke="#222" stroke-width="1.1" stroke-linejoin="round" />
<polygon points="86.71,396.09 102.01,398.55 101.73,387.51 86.3,385.1" fill="#c8c8c8" stroke="#222" stroke-width="1.1" stroke-linejoin="round" />
<polygon points="86.3,385.1 101.73,387.51 106.02,381.93 90.83,379.61" fill="#8a8a8a" stroke="#222" stroke-width="1.1" stroke-linejoin="round" />
<polygon points="126.69,402.53 130.55,396.67 130.51,384.35 126.61,390.04" fill="#e6e6e6" stroke="#222" stroke-width="1.1" stroke-linejoin="round" />
<polygon points="111.04,400 126.69,402.53 126.61,390.04 110.81,387.58" fill="#c8c8c8" stroke="#222" stroke-width="1.1" stroke-linejoin="round" />
<polygon points="110.81,387.58 126.61,390.04 130.51,384.35 114.96,381.98" fill="#8a8a8a" stroke="#222" stroke-width="1.1" stroke-linejoin="round" />
<polygon points="151.2,406.47 154.66,400.48 154.78,392.37 151.3,398.25" fill="#e6e6e6" stroke="#222" stroke-width="1.1" stroke-linejoin="round" />
<polygon points="135.2,403.9 151.2,406.47 151.3,398.25 135.2,395.72" fill="#c8c8c8" stroke="#222" stroke-width="1.1" stroke-linejoin="round" />
<polygon points="135.2,395.72 151.3,398.25 154.78,392.37 138.95,389.92" fill="#8a8a8a" stroke="#222" stroke-width="1.1" stroke-linejoin="round" />
<polygon points="176.77,410.59 179.81,404.46 180.03,397.94 176.98,403.98" fill="#e6e6e6" stroke="#222" stroke-width="1.1" stroke-linejoin="round" />
<polygon points="160.4,407.95 176.77,410.59 176.98,403.98 160.53,401.38" fill="#c8c8c8" stroke="#222" stroke-width="1.1" stroke-linejoin="round" />
<polygon points="160.53,401.38 176.98,403.98 180.03,397.94 163.86,395.42" fill="#8a8a8a" stroke="#222" stroke-width="1.1" stroke-linejoin="round" />
<polygon points="92.78,410.99 97.35,404.83 96.92,390.18 92.29,396.14" fill="#111" stroke="#222" stroke-width="1.1" stroke-linejoin="round" />
<polygon points="76.96,408.34 92.78,410.99 92.29,396.14 76.3,393.57" fill="#050505" stroke="#222" stroke-width="1.1" stroke-linejoin="round" />
<polygon points="76.3,393.57 92.29,396.14 96.92,390.18 81.19,387.71" fill="#000" stroke="#222" stroke-width="1.1" stroke-linejoin="round" />
<polygon points="118.3,415.26 122.46,408.95 122.31,393.41 118.1,399.5" fill="#111" stroke="#222" stroke-width="1.1" stroke-linejoin="round" />
<polygon points="102.11,412.55 118.3,415.26 118.1,399.5 101.71,396.87" fill="#050505" stroke="#222" stroke-width="1.1" stroke-linejoin="round" />
<polygon points="101.71,396.87 118.1,399.5 122.31,393.41 106.2,390.87" fill="#000" stroke="#222" stroke-width="1.1" stroke-linejoin="round" />
<polygon points="143.66,419.51 147.39,413.05 147.4,411.92 143.67,418.37" fill="#111" stroke="#222" stroke-width="1.1" stroke-linejoin="round" />
<polygon points="127.1,416.74 143.66,419.51 143.67,418.37 127.09,415.6" fill="#050505" stroke="#222" stroke-width="1.1" stroke-linejoin="round" />
<polygon points="127.09,415.6 143.67,418.37 147.4,411.92 131.11,409.25" fill="#000" stroke="#222" stroke-width="1.1" stroke-linejoin="round" />
<polygon points="170.15,423.95 173.43,417.33 173.46,416.16 170.18,422.76" fill="#111" stroke="#222" stroke-width="1.1" stroke-linejoin="round" />
<polygon points="153.19,421.11 170.15,423.95 170.18,422.76 153.21,419.93" fill="#050505" stroke="#222" stroke-width="1.1" stroke-linejoin="round" />
<polygon points="153.21,419.93 170.18,422.76 173.46,416.16 156.79,413.43" fill="#000" stroke="#222" stroke-width="1.1" stroke-linejoin="round" />
<text transform="translate(38.4,296.2) scale(1.045,1)" font-size="12.2" text-anchor="end" font-weight="bold" stroke="#000" stroke-width="0.3" >20</text>
<text transform="translate(40.4,327.7) scale(1.045,1)" font-size="12.2" text-anchor="end" font-weight="bold" stroke="#000" stroke-width="0.3" >15</text>
<text transform="translate(42.6,359) scale(1.045,1)" font-size="12.2" text-anchor="end" font-weight="bold" stroke="#000" stroke-width="0.3" >10</text>
<text transform="translate(45,393.8) scale(1.045,1)" font-size="12.2" text-anchor="end" font-weight="bold" stroke="#000" stroke-width="0.3" >5</text>
<text transform="translate(47.8,423.1) scale(1.045,1)" font-size="12.2" text-anchor="end" font-weight="bold" stroke="#000" stroke-width="0.3" >0</text>
<text transform="translate(22,416.3) rotate(-90)" font-size="12.6" font-weight="bold" stroke="#000" stroke-width="0.3">Adhesion specificity</text>
<text transform="translate(69.8,434.8) scale(1.045,1)" font-size="12.2" text-anchor="middle" font-weight="bold" stroke="#000" stroke-width="0.3" >4</text>
<text transform="translate(95.2,439.4) scale(1.045,1)" font-size="12.2" text-anchor="middle" font-weight="bold" stroke="#000" stroke-width="0.3" >6</text>
<text transform="translate(118.3,445.2) scale(1.045,1)" font-size="12.2" text-anchor="middle" font-weight="bold" stroke="#000" stroke-width="0.3" >11</text>
<text transform="translate(146.2,449.8) scale(1.045,1)" font-size="12.2" text-anchor="middle" font-weight="bold" stroke="#000" stroke-width="0.3" >34</text>
<text transform="translate(84.2,462.5) rotate(9.5) scale(1.03,1)" font-size="12.2" font-weight="bold" stroke="#000" stroke-width="0.3">&lt; <tspan font-style="italic">d</tspan> &gt; (nm)</text>
<text transform="translate(214.2,389.6) scale(1.045,1)" font-size="12.2" text-anchor="start" font-weight="bold" stroke="#000" stroke-width="0.3" >CSA</text>
<text transform="translate(210.2,401.6) scale(1.045,1)" font-size="12.2" text-anchor="start" font-weight="bold" stroke="#000" stroke-width="0.3" >pullulan</text>
<text transform="translate(204.1,415.2) scale(1.045,1)" font-size="12.2" text-anchor="start" font-weight="bold" stroke="#000" stroke-width="0.3" >HA</text>
<text transform="translate(198.1,428.6) scale(1.045,1)" font-size="12.2" text-anchor="start" font-weight="bold" stroke="#000" stroke-width="0.3" >CSC</text>
<line x1="341.9" y1="250" x2="341.9" y2="417.8" stroke="#333" stroke-width="1.5" />
<line x1="339.6" y1="417.2" x2="513.08" y2="417.2" stroke="#333" stroke-width="1.5" />
<line x1="339.4" y1="417.2" x2="341.9" y2="417.2" stroke="#333" stroke-width="1.2" />
<text transform="translate(332.5,421.4) scale(1.045,1)" font-size="12.2" text-anchor="end" font-weight="bold" stroke="#000" stroke-width="0.3" >0.0</text>
<line x1="339.4" y1="375.55" x2="341.9" y2="375.55" stroke="#333" stroke-width="1.2" />
<text transform="translate(332.5,379.75) scale(1.045,1)" font-size="12.2" text-anchor="end" font-weight="bold" stroke="#000" stroke-width="0.3" >2.5</text>
<line x1="339.4" y1="333.9" x2="341.9" y2="333.9" stroke="#333" stroke-width="1.2" />
<text transform="translate(332.5,338.1) scale(1.045,1)" font-size="12.2" text-anchor="end" font-weight="bold" stroke="#000" stroke-width="0.3" >5.0</text>
<line x1="339.4" y1="292.25" x2="341.9" y2="292.25" stroke="#333" stroke-width="1.2" />
<text transform="translate(332.5,296.45) scale(1.045,1)" font-size="12.2" text-anchor="end" font-weight="bold" stroke="#000" stroke-width="0.3" >7.5</text>
<line x1="339.4" y1="250.6" x2="341.9" y2="250.6" stroke="#333" stroke-width="1.2" />
<text transform="translate(332.5,254.8) scale(1.045,1)" font-size="12.2" text-anchor="end" font-weight="bold" stroke="#000" stroke-width="0.3" >10.0</text>
<line x1="340.2" y1="396.38" x2="341.9" y2="396.38" stroke="#333" stroke-width="1.1" />
<line x1="340.2" y1="354.72" x2="341.9" y2="354.72" stroke="#333" stroke-width="1.1" />
<line x1="340.2" y1="313.07" x2="341.9" y2="313.07" stroke="#333" stroke-width="1.1" />
<line x1="340.2" y1="271.42" x2="341.9" y2="271.42" stroke="#333" stroke-width="1.1" />
<line x1="341.9" y1="417.2" x2="341.9" y2="419.8" stroke="#333" stroke-width="1.2" />
<text transform="translate(341.9,437.8) scale(1.045,1)" font-size="12.2" text-anchor="middle" font-weight="bold" stroke="#000" stroke-width="0.3" >0</text>
<line x1="356.11" y1="417.2" x2="356.11" y2="419" stroke="#333" stroke-width="1.2" />
<line x1="370.33" y1="417.2" x2="370.33" y2="419.8" stroke="#333" stroke-width="1.2" />
<text transform="translate(370.33,437.8) scale(1.045,1)" font-size="12.2" text-anchor="middle" font-weight="bold" stroke="#000" stroke-width="0.3" >10</text>
<line x1="384.54" y1="417.2" x2="384.54" y2="419" stroke="#333" stroke-width="1.2" />
<line x1="398.76" y1="417.2" x2="398.76" y2="419.8" stroke="#333" stroke-width="1.2" />
<text transform="translate(398.76,437.8) scale(1.045,1)" font-size="12.2" text-anchor="middle" font-weight="bold" stroke="#000" stroke-width="0.3" >20</text>
<line x1="412.97" y1="417.2" x2="412.97" y2="419" stroke="#333" stroke-width="1.2" />
<line x1="427.19" y1="417.2" x2="427.19" y2="419.8" stroke="#333" stroke-width="1.2" />
<text transform="translate(427.19,437.8) scale(1.045,1)" font-size="12.2" text-anchor="middle" font-weight="bold" stroke="#000" stroke-width="0.3" >30</text>
<line x1="441.4" y1="417.2" x2="441.4" y2="419" stroke="#333" stroke-width="1.2" />
<line x1="455.62" y1="417.2" x2="455.62" y2="419.8" stroke="#333" stroke-width="1.2" />
<text transform="translate(455.62,437.8) scale(1.045,1)" font-size="12.2" text-anchor="middle" font-weight="bold" stroke="#000" stroke-width="0.3" >40</text>
<line x1="469.83" y1="417.2" x2="469.83" y2="419" stroke="#333" stroke-width="1.2" />
<line x1="484.05" y1="417.2" x2="484.05" y2="419.8" stroke="#333" stroke-width="1.2" />
<text transform="translate(484.05,437.8) scale(1.045,1)" font-size="12.2" text-anchor="middle" font-weight="bold" stroke="#000" stroke-width="0.3" >50</text>
<line x1="498.26" y1="417.2" x2="498.26" y2="419" stroke="#333" stroke-width="1.2" />
<line x1="512.48" y1="417.2" x2="512.48" y2="419.8" stroke="#333" stroke-width="1.2" />
<text transform="translate(512.48,437.8) scale(1.045,1)" font-size="12.2" text-anchor="middle" font-weight="bold" stroke="#000" stroke-width="0.3" >60</text>
<text transform="translate(382.2,462.8) scale(1.045,1)" font-size="12.2" text-anchor="start" font-weight="bold" stroke="#000" stroke-width="0.3" >CSA &lt; <tspan font-style="italic">d</tspan> &gt; (nm)</text>
<text transform="translate(292,405.2) rotate(-90)" font-size="12.6" font-weight="bold" stroke="#000" stroke-width="0.3">Contact area (&#181;m<tspan dy="-5.5" font-size="8">2</tspan><tspan dy="5.5"> / cell)</tspan></text>
<text transform="translate(266.5,251.5) scale(1.045,1)" font-size="16.8" text-anchor="start" font-weight="bold" stroke="#000" stroke-width="0.3" >D</text>
<path d="M351.85,266.7 L352.29,272.3 L352.72,277.6 L353.16,282.62 L353.59,287.38 L354.03,291.89 L354.46,296.17 L354.9,300.22 L355.34,304.06 L355.77,307.7 L356.21,311.15 L356.64,314.41 L357.08,317.51 L357.52,320.44 L357.95,323.22 L358.39,325.86 L358.82,328.36 L359.26,330.72 L359.69,332.96 L360.13,335.09 L360.57,337.1 L361,339.01 L361.44,340.82 L361.87,342.53 L362.31,344.16 L362.74,345.7 L363.18,347.15 L363.62,348.54 L364.05,349.85 L364.49,351.09 L364.92,352.26 L365.36,353.38 L365.79,354.43 L366.23,355.44 L366.67,356.38 L367.1,357.28 L367.54,358.13 L367.97,358.94 L368.41,359.71 L368.84,360.43 L369.28,361.12 L369.72,361.77 L370.15,362.39 L370.59,362.97 L371.02,363.52 L371.46,364.05 L371.89,364.55 L372.33,365.02 L372.77,365.47 L373.2,365.89 L373.64,366.29 L374.07,366.67 L374.51,367.03 L374.94,367.37 L375.38,367.69 L375.82,368 L376.25,368.29 L376.69,368.57 L377.12,368.83 L377.56,369.08 L377.99,369.31 L378.43,369.53 L378.87,369.74 L379.3,369.94 L379.74,370.13 L380.17,370.31 L380.61,370.48 L381.04,370.64 L381.48,370.79 L381.92,370.94 L382.35,371.07 L382.79,371.2 L383.22,371.33 L383.66,371.44 L384.09,371.55 L384.53,371.66 L384.97,371.76 L385.4,371.85 L385.84,371.94 L386.27,372.02 L386.71,372.1 L387.15,372.18 L387.58,372.25 L388.02,372.32 L388.45,372.38 L388.89,372.45 L389.32,372.5 L389.76,372.56 L390.2,372.61 L390.63,372.66 L391.07,372.71 L391.5,372.75 L391.94,372.79 L392.37,372.83 L392.81,372.87 L393.25,372.91 L393.68,372.94 L394.12,372.97 L394.55,373 L394.99,373.03 L395.42,373.06 L395.86,373.08 L396.3,373.11 L396.73,373.13 L397.17,373.15 L397.6,373.17 L398.04,373.19 L398.47,373.21 L398.91,373.23 L399.35,373.25 L399.78,373.26 L400.22,373.28 L400.65,373.29 L401.09,373.31 L401.52,373.32 L401.96,373.33 L402.4,373.34 L402.83,373.35 L403.27,373.36 L403.7,373.37 L404.14,373.38 L404.57,373.39 L405.01,373.4 L405.45,373.41 L405.88,373.42 L406.32,373.42 L406.75,373.43 L407.19,373.44 L407.62,373.44 L408.06,373.45 L408.5,373.45 L408.93,373.46 L409.37,373.46 L409.8,373.47 L410.24,373.47 L410.67,373.48 L411.11,373.48 L411.55,373.48 L411.98,373.49 L412.42,373.49 L412.85,373.49 L413.29,373.5 L413.73,373.5 L414.16,373.5 L414.6,373.5 L415.03,373.51 L415.47,373.51 L415.9,373.51 L416.34,373.51 L416.78,373.52 L417.21,373.52 L417.65,373.52 L418.08,373.52 L418.52,373.52 L418.95,373.52 L419.39,373.53 L419.83,373.53 L420.26,373.53 L420.7,373.53 L421.13,373.53 L421.57,373.53 L422,373.53 L422.44,373.53 L422.88,373.53 L423.31,373.54 L423.75,373.54 L424.18,373.54 L424.62,373.54 L425.05,373.54 L425.49,373.54 L425.93,373.54 L426.36,373.54 L426.8,373.54 L427.23,373.54 L427.67,373.54 L428.1,373.54 L428.54,373.54 L428.98,373.54 L429.41,373.54 L429.85,373.54 L430.28,373.54 L430.72,373.54 L431.15,373.54 L431.59,373.55 L432.03,373.55 L432.46,373.55 L432.9,373.55 L433.33,373.55 L433.77,373.55 L434.2,373.55 L434.64,373.55 L435.08,373.55 L435.51,373.55 L435.95,373.55 L436.38,373.55 L436.82,373.55 L437.25,373.55 L437.69,373.55 L438.13,373.55 L438.56,373.55" fill="none" stroke="#222" stroke-width="1.1" stroke-linejoin="round" />
<path d="M353.27,375.55 L438.56,375.55" fill="none" stroke="#222" stroke-width="1.2" stroke-linejoin="round" stroke-dasharray="1.2 2.4"/>
<line x1="351.6" y1="257.5" x2="351.6" y2="279" stroke="#222" stroke-width="1.0" />
<line x1="347.3" y1="257.5" x2="355.9" y2="257.5" stroke="#222" stroke-width="1.2" />
<line x1="347.3" y1="279" x2="355.9" y2="279" stroke="#222" stroke-width="1.2" />
<line x1="357" y1="298.5" x2="357" y2="336.5" stroke="#222" stroke-width="1.0" />
<line x1="352.7" y1="298.5" x2="361.3" y2="298.5" stroke="#222" stroke-width="1.2" />
<line x1="352.7" y1="336.5" x2="361.3" y2="336.5" stroke="#222" stroke-width="1.2" />
<line x1="359.2" y1="350" x2="359.2" y2="370" stroke="#222" stroke-width="1.0" />
<line x1="354.9" y1="350" x2="363.5" y2="350" stroke="#222" stroke-width="1.2" />
<line x1="354.9" y1="370" x2="363.5" y2="370" stroke="#222" stroke-width="1.2" />
<line x1="363.8" y1="351.5" x2="363.8" y2="361.5" stroke="#222" stroke-width="1.0" />
<line x1="359.5" y1="351.5" x2="368.1" y2="351.5" stroke="#222" stroke-width="1.2" />
<line x1="359.5" y1="361.5" x2="368.1" y2="361.5" stroke="#222" stroke-width="1.2" />
<line x1="367.3" y1="358" x2="367.3" y2="372" stroke="#222" stroke-width="1.0" />
<line x1="363" y1="358" x2="371.6" y2="358" stroke="#222" stroke-width="1.2" />
<line x1="363" y1="372" x2="371.6" y2="372" stroke="#222" stroke-width="1.2" />
<line x1="373.1" y1="352.5" x2="373.1" y2="369" stroke="#222" stroke-width="1.0" />
<line x1="368.8" y1="352.5" x2="377.4" y2="352.5" stroke="#222" stroke-width="1.2" />
<line x1="368.8" y1="369" x2="377.4" y2="369" stroke="#222" stroke-width="1.2" />
<line x1="438.2" y1="366" x2="438.2" y2="386" stroke="#222" stroke-width="1.0" />
<line x1="433.9" y1="366" x2="442.5" y2="366" stroke="#222" stroke-width="1.2" />
<line x1="433.9" y1="386" x2="442.5" y2="386" stroke="#222" stroke-width="1.2" />
<line x1="351.2" y1="354.1" x2="351.2" y2="371.3" stroke="#222" stroke-width="1.0" />
<line x1="346.9" y1="354.1" x2="355.5" y2="354.1" stroke="#222" stroke-width="1.2" />
<line x1="346.9" y1="371.3" x2="355.5" y2="371.3" stroke="#222" stroke-width="1.2" />
<line x1="363.1" y1="364" x2="363.1" y2="379" stroke="#222" stroke-width="1.0" />
<line x1="358.8" y1="364" x2="367.4" y2="364" stroke="#222" stroke-width="1.2" />
<line x1="358.8" y1="379" x2="367.4" y2="379" stroke="#222" stroke-width="1.2" />
<line x1="366.5" y1="365.4" x2="366.5" y2="383.8" stroke="#222" stroke-width="1.0" />
<line x1="362.2" y1="365.4" x2="370.8" y2="365.4" stroke="#222" stroke-width="1.2" />
<line x1="362.2" y1="383.8" x2="370.8" y2="383.8" stroke="#222" stroke-width="1.2" />
<line x1="373.1" y1="374.6" x2="373.1" y2="384.6" stroke="#222" stroke-width="1.0" />
<line x1="368.8" y1="374.6" x2="377.4" y2="374.6" stroke="#222" stroke-width="1.2" />
<line x1="368.8" y1="384.6" x2="377.4" y2="384.6" stroke="#222" stroke-width="1.2" />
<line x1="438.2" y1="370.3" x2="438.2" y2="395.4" stroke="#222" stroke-width="1.0" />
<line x1="433.9" y1="370.3" x2="442.5" y2="370.3" stroke="#222" stroke-width="1.2" />
<line x1="433.9" y1="395.4" x2="442.5" y2="395.4" stroke="#222" stroke-width="1.2" />
<line x1="351.2" y1="368.1" x2="351.2" y2="382.7" stroke="#222" stroke-width="1.0" />
<line x1="346.9" y1="368.1" x2="355.5" y2="368.1" stroke="#222" stroke-width="1.2" />
<line x1="346.9" y1="382.7" x2="355.5" y2="382.7" stroke="#222" stroke-width="1.2" />
<line x1="357.3" y1="362" x2="357.3" y2="376.4" stroke="#222" stroke-width="1.0" />
<line x1="353" y1="362" x2="361.6" y2="362" stroke="#222" stroke-width="1.2" />
<line x1="353" y1="376.4" x2="361.6" y2="376.4" stroke="#222" stroke-width="1.2" />
<line x1="373.1" y1="368" x2="373.1" y2="383" stroke="#222" stroke-width="1.0" />
<line x1="368.8" y1="368" x2="377.4" y2="368" stroke="#222" stroke-width="1.2" />
<line x1="368.8" y1="383" x2="377.4" y2="383" stroke="#222" stroke-width="1.2" />
<line x1="438.2" y1="365.1" x2="438.2" y2="387.5" stroke="#222" stroke-width="1.0" />
<line x1="433.9" y1="365.1" x2="442.5" y2="365.1" stroke="#222" stroke-width="1.2" />
<line x1="433.9" y1="387.5" x2="442.5" y2="387.5" stroke="#222" stroke-width="1.2" />
<circle cx="351.6" cy="267.9" r="3.9" fill="#8c8c8c" stroke="#1a1a1a" stroke-width="1.35"/>
<circle cx="357" cy="317.3" r="3.9" fill="#8c8c8c" stroke="#1a1a1a" stroke-width="1.35"/>
<circle cx="359.2" cy="360.4" r="3.9" fill="#8c8c8c" stroke="#1a1a1a" stroke-width="1.35"/>
<circle cx="363.8" cy="356.5" r="3.9" fill="#8c8c8c" stroke="#1a1a1a" stroke-width="1.35"/>
<circle cx="367.3" cy="365.4" r="3.9" fill="#8c8c8c" stroke="#1a1a1a" stroke-width="1.35"/>
<circle cx="373.1" cy="360.8" r="3.9" fill="#8c8c8c" stroke="#1a1a1a" stroke-width="1.35"/>
<circle cx="438.2" cy="376.2" r="3.9" fill="#8c8c8c" stroke="#1a1a1a" stroke-width="1.35"/>
<circle cx="351.2" cy="362.7" r="3.9" fill="#fff" stroke="#111" stroke-width="1.1"/>
<circle cx="351.2" cy="375.4" r="4.1" fill="#000" stroke="#000" stroke-width="0.8"/>
<circle cx="357.3" cy="369.2" r="4.1" fill="#000" stroke="#000" stroke-width="0.8"/>
<circle cx="366.5" cy="374.6" r="3.9" fill="#fff" stroke="#111" stroke-width="1.1"/>
<circle cx="363.1" cy="371.5" r="3.9" fill="#fff" stroke="#111" stroke-width="1.1"/>
<circle cx="373.1" cy="379.6" r="3.9" fill="#fff" stroke="#111" stroke-width="1.1"/>
<circle cx="373.1" cy="375.4" r="4.1" fill="#000" stroke="#000" stroke-width="0.8"/>
<circle cx="438.2" cy="382.6" r="3.9" fill="#fff" stroke="#111" stroke-width="1.1"/>
<circle cx="438.2" cy="376.2" r="4.1" fill="#000" stroke="#000" stroke-width="0.8"/>
<circle cx="422.3" cy="256" r="3.7" fill="#8c8c8c" stroke="#333" stroke-width="1.1"/>
<circle cx="422.3" cy="273.3" r="3.7" fill="#fff" stroke="#222" stroke-width="1.1"/>
<circle cx="422.3" cy="289.4" r="4.1" fill="#000"/>
<text transform="translate(441.6,260.7) scale(1.045,1)" font-size="11.0" text-anchor="start" font-weight="bold" stroke="#000" stroke-width="0.3" >FCR3<tspan dy="-6.6" font-size="7.6">CSA</tspan></text>
<text transform="translate(441.6,278) scale(1.045,1)" font-size="11.0" text-anchor="start" font-weight="bold" stroke="#000" stroke-width="0.3" >FCR3<tspan dy="-6.6" font-size="7.6">&#916;var2CSA</tspan></text>
<text transform="translate(441.6,293) scale(1.045,1)" font-size="11.0" text-anchor="start" font-weight="bold" stroke="#000" stroke-width="0.3" >RBC</text>
<line x1="52.3" y1="510.9" x2="52.3" y2="638.3" stroke="#333" stroke-width="1.5" />
<line x1="49.7" y1="637.7" x2="236.9" y2="637.7" stroke="#333" stroke-width="1.5" />
<line x1="49.3" y1="637.7" x2="52.3" y2="637.7" stroke="#333" stroke-width="1.2" />
<text transform="translate(42.8,641.9) scale(1.045,1)" font-size="12.2" text-anchor="end" font-weight="bold" stroke="#000" stroke-width="0.3" >0.0</text>
<line x1="49.3" y1="595.63" x2="52.3" y2="595.63" stroke="#333" stroke-width="1.2" />
<text transform="translate(42.8,599.83) scale(1.045,1)" font-size="12.2" text-anchor="end" font-weight="bold" stroke="#000" stroke-width="0.3" >0.2</text>
<line x1="49.3" y1="553.57" x2="52.3" y2="553.57" stroke="#333" stroke-width="1.2" />
<text transform="translate(42.8,557.77) scale(1.045,1)" font-size="12.2" text-anchor="end" font-weight="bold" stroke="#000" stroke-width="0.3" >0.4</text>
<line x1="49.3" y1="511.5" x2="52.3" y2="511.5" stroke="#333" stroke-width="1.2" />
<text transform="translate(42.8,515.7) scale(1.045,1)" font-size="12.2" text-anchor="end" font-weight="bold" stroke="#000" stroke-width="0.3" >0.6</text>
<line x1="50.1" y1="616.67" x2="52.3" y2="616.67" stroke="#333" stroke-width="1.1" />
<line x1="50.1" y1="574.6" x2="52.3" y2="574.6" stroke="#333" stroke-width="1.1" />
<line x1="50.1" y1="532.53" x2="52.3" y2="532.53" stroke="#333" stroke-width="1.1" />
<line x1="52.3" y1="637.7" x2="52.3" y2="640.5" stroke="#333" stroke-width="1.2" />
<text transform="translate(52.3,658.2) scale(1.045,1)" font-size="12.2" text-anchor="middle" font-weight="bold" stroke="#000" stroke-width="0.3" >0</text>
<line x1="75.3" y1="637.7" x2="75.3" y2="639.5" stroke="#333" stroke-width="1.2" />
<line x1="98.3" y1="637.7" x2="98.3" y2="640.5" stroke="#333" stroke-width="1.2" />
<text transform="translate(98.3,658.2) scale(1.045,1)" font-size="12.2" text-anchor="middle" font-weight="bold" stroke="#000" stroke-width="0.3" >2</text>
<line x1="121.3" y1="637.7" x2="121.3" y2="639.5" stroke="#333" stroke-width="1.2" />
<line x1="144.3" y1="637.7" x2="144.3" y2="640.5" stroke="#333" stroke-width="1.2" />
<text transform="translate(144.3,658.2) scale(1.045,1)" font-size="12.2" text-anchor="middle" font-weight="bold" stroke="#000" stroke-width="0.3" >4</text>
<line x1="167.3" y1="637.7" x2="167.3" y2="639.5" stroke="#333" stroke-width="1.2" />
<line x1="190.3" y1="637.7" x2="190.3" y2="640.5" stroke="#333" stroke-width="1.2" />
<text transform="translate(190.3,658.2) scale(1.045,1)" font-size="12.2" text-anchor="middle" font-weight="bold" stroke="#000" stroke-width="0.3" >6</text>
<line x1="213.3" y1="637.7" x2="213.3" y2="639.5" stroke="#333" stroke-width="1.2" />
<line x1="236.3" y1="637.7" x2="236.3" y2="640.5" stroke="#333" stroke-width="1.2" />
<text transform="translate(236.3,658.2) scale(1.045,1)" font-size="12.2" text-anchor="middle" font-weight="bold" stroke="#000" stroke-width="0.3" >8</text>
<text transform="translate(104.4,683.4) scale(1.045,1)" font-size="12.2" text-anchor="start" font-weight="bold" stroke="#000" stroke-width="0.3" >Position (&#181;m)</text>
<text transform="translate(12.6,630.4) rotate(-90)" font-size="12.65" font-weight="bold" stroke="#000" stroke-width="0.3">Height profile (&#181;m)</text>
<text transform="translate(2.2,503.7) scale(1.045,1)" font-size="16.8" text-anchor="start" font-weight="bold" stroke="#000" stroke-width="0.3" >E</text>
<path d="M66.9,536.1 L69.2,552.9 L71.5,571.3 L74.5,591.2 L78.3,606.5 L82.9,617.2 L87.5,624 L90.2,626.5 L92.9,615.6 L96.7,601.9 L100.5,588.1 L104.3,574.3 L105.4,568.8 L107.4,562.1 L109.4,555.4 L113.5,548 L117.5,540.6 L122.2,536.5 L124.9,532.5 L126.9,528.5 L130.3,525.1 L133,528.5 L136.3,527.8 L140.4,527.4 L143.7,531.2 L147.1,535.2 L151.1,541.2 L155.2,543.9 L159.2,551.3 L163.3,559.4 L167.3,564.8 L172.3,572.7 L178.1,586.2 L183.8,601.5 L188.7,615 L193.5,626.5 L198.3,631.3 L204,628.5 L208.8,613.1 L212.7,593.8 L216.5,566.9 L219.4,540" fill="none" stroke="#444" stroke-width="1.3" stroke-linejoin="round" stroke-dasharray="1.3 2.5"/>
<path d="M73,538.4 L75.3,560.6 L76.8,575.9 L78.3,591.2 L80.6,603.4 L82.2,611 L84.5,617.9 L86,622.5 L89,624 L91.3,626.3 L94.4,623.3 L96.7,620.2 L99.8,615.6 L102,609.5 L104.3,598.8 L106,595 L108.2,590.4 L110,582 L112,572 L113.5,564 L114.1,562.8 L115.2,561 L116.2,554 L117.3,561 L118.8,559.4 L120.2,560.1 L122,568 L123.6,574.2 L124.6,580 L126.5,584 L127.5,588 L129.9,590.7 L131,591 L133.8,597.7 L135.5,597 L137.7,599.6 L141.5,613.1 L145.4,621.7 L149.2,626.5 L153,628.3 L155,628.3 L157.9,629.3 L159,627.3 L161,627.5 L163.7,626.2 L166,625 L170.4,624.6 L174.2,619.8 L178.1,607.3 L181,605.4 L183.5,605.6 L185.8,607.3 L188.7,612.1 L191,612.5 L194.4,614 L195.5,616.5 L197.3,616 L199,613.5 L200.5,613 L202.1,612.1 L203,615 L205,614.6 L206.5,610 L207.9,608.3 L209.5,609 L210.8,603.5 L213.7,591.9 L216.5,568.8 L220.4,536.2" fill="none" stroke="#1a1a1a" stroke-width="1.1" stroke-linejoin="round" />
<line x1="159.6" y1="502.4" x2="186.1" y2="502.4" stroke="#444" stroke-width="1.4" />
<line x1="159.6" y1="517.8" x2="186.1" y2="517.8" stroke="#555" stroke-width="1.2" stroke-dasharray="1.3 2.5"/>
<text transform="translate(191.6,506.3) scale(1.045,1)" font-size="11.2" text-anchor="start" font-weight="bold" stroke="#000" stroke-width="0.3" >FCR3<tspan dy="-6.6" font-size="7.6">CSA</tspan></text>
<text transform="translate(191.6,521.3) scale(1.045,1)" font-size="11.2" text-anchor="start" font-weight="bold" stroke="#000" stroke-width="0.3" >RBC</text>
<line x1="328.3" y1="510.9" x2="328.3" y2="638.3" stroke="#333" stroke-width="1.5" />
<line x1="325.7" y1="637.7" x2="512.9" y2="637.7" stroke="#333" stroke-width="1.5" />
<line x1="325.3" y1="637.7" x2="328.3" y2="637.7" stroke="#333" stroke-width="1.2" />
<text transform="translate(318.8,641.9) scale(1.045,1)" font-size="12.2" text-anchor="end" font-weight="bold" stroke="#000" stroke-width="0.3" >0.0</text>
<line x1="325.3" y1="595.63" x2="328.3" y2="595.63" stroke="#333" stroke-width="1.2" />
<text transform="translate(318.8,599.83) scale(1.045,1)" font-size="12.2" text-anchor="end" font-weight="bold" stroke="#000" stroke-width="0.3" >0.2</text>
<line x1="325.3" y1="553.57" x2="328.3" y2="553.57" stroke="#333" stroke-width="1.2" />
<text transform="translate(318.8,557.77) scale(1.045,1)" font-size="12.2" text-anchor="end" font-weight="bold" stroke="#000" stroke-width="0.3" >0.4</text>
<line x1="325.3" y1="511.5" x2="328.3" y2="511.5" stroke="#333" stroke-width="1.2" />
<text transform="translate(318.8,515.7) scale(1.045,1)" font-size="12.2" text-anchor="end" font-weight="bold" stroke="#000" stroke-width="0.3" >0.6</text>
<line x1="326.1" y1="616.67" x2="328.3" y2="616.67" stroke="#333" stroke-width="1.1" />
<line x1="326.1" y1="574.6" x2="328.3" y2="574.6" stroke="#333" stroke-width="1.1" />
<line x1="326.1" y1="532.53" x2="328.3" y2="532.53" stroke="#333" stroke-width="1.1" />
<line x1="328.3" y1="637.7" x2="328.3" y2="640.5" stroke="#333" stroke-width="1.2" />
<text transform="translate(328.3,658.2) scale(1.045,1)" font-size="12.2" text-anchor="middle" font-weight="bold" stroke="#000" stroke-width="0.3" >0</text>
<line x1="351.3" y1="637.7" x2="351.3" y2="639.5" stroke="#333" stroke-width="1.2" />
<line x1="374.3" y1="637.7" x2="374.3" y2="640.5" stroke="#333" stroke-width="1.2" />
<text transform="translate(374.3,658.2) scale(1.045,1)" font-size="12.2" text-anchor="middle" font-weight="bold" stroke="#000" stroke-width="0.3" >2</text>
<line x1="397.3" y1="637.7" x2="397.3" y2="639.5" stroke="#333" stroke-width="1.2" />
<line x1="420.3" y1="637.7" x2="420.3" y2="640.5" stroke="#333" stroke-width="1.2" />
<text transform="translate(420.3,658.2) scale(1.045,1)" font-size="12.2" text-anchor="middle" font-weight="bold" stroke="#000" stroke-width="0.3" >4</text>
<line x1="443.3" y1="637.7" x2="443.3" y2="639.5" stroke="#333" stroke-width="1.2" />
<line x1="466.3" y1="637.7" x2="466.3" y2="640.5" stroke="#333" stroke-width="1.2" />
<text transform="translate(466.3,658.2) scale(1.045,1)" font-size="12.2" text-anchor="middle" font-weight="bold" stroke="#000" stroke-width="0.3" >6</text>
<line x1="489.3" y1="637.7" x2="489.3" y2="639.5" stroke="#333" stroke-width="1.2" />
<line x1="512.3" y1="637.7" x2="512.3" y2="640.5" stroke="#333" stroke-width="1.2" />
<text transform="translate(512.3,658.2) scale(1.045,1)" font-size="12.2" text-anchor="middle" font-weight="bold" stroke="#000" stroke-width="0.3" >8</text>
<text transform="translate(380.4,683.4) scale(1.045,1)" font-size="12.2" text-anchor="start" font-weight="bold" stroke="#000" stroke-width="0.3" >Position (&#181;m)</text>
<text transform="translate(288.6,630.4) rotate(-90)" font-size="12.65" font-weight="bold" stroke="#000" stroke-width="0.3">Height profile (&#181;m)</text>
<text transform="translate(266.6,503.7) scale(1.045,1)" font-size="16.8" text-anchor="start" font-weight="bold" stroke="#000" stroke-width="0.3" >F</text>
<path d="M344.2,571.5 L349.4,592.7 L354.2,611.9 L360,627.3 L365.8,635 L373.5,629.2 L381.2,610 L388.8,586.9 L394.6,563.8 L400.4,544.6 L406.2,529.2 L411.9,518.7 L415.8,514.8 L420.6,516.7 L425.4,525.4 L431.2,538.8 L436.4,563 L442,585.7 L447.7,604.6 L453.4,619.7 L461,630.2 L468.5,634.9 L474.2,632 L479.9,621.6 L485.5,604.6 L490.3,589.5 L492,583" fill="none" stroke="#444" stroke-width="1.3" stroke-linejoin="round" stroke-dasharray="1.3 2.5"/>
<path d="M344.2,585 L347.5,598.5 L351.3,613.8 L354.2,623.5 L357.7,630.8 L364.8,631.2 L369.6,627.3 L374.4,619.6 L379.2,606.2 L382.7,583.1 L386,571.5 L388.8,556.2 L392.7,544.6 L396.5,537.9 L398,536 L399.4,535 L400.4,538.8 L402.3,534 L403.5,536 L405.2,538.8 L409,556.2 L411.9,571.5 L415.8,586.9 L419.6,593.7 L421,596 L423.5,598.5 L425,597 L427.3,601.3 L430.7,606.5 L436.4,615 L442,621.6 L449.6,628.3 L455.3,629.2 L461,633 L468.5,633.4 L474.2,631.1 L479.9,623.5 L483.7,612.2 L488.4,589.5 L493.5,563.9" fill="none" stroke="#1a1a1a" stroke-width="1.1" stroke-linejoin="round" />
<line x1="434.4" y1="502.4" x2="460.9" y2="502.4" stroke="#444" stroke-width="1.4" />
<line x1="434.4" y1="517.8" x2="460.9" y2="517.8" stroke="#555" stroke-width="1.2" stroke-dasharray="1.3 2.5"/>
<text transform="translate(466.6,506.3) scale(1.045,1)" font-size="11.2" text-anchor="start" font-weight="bold" stroke="#000" stroke-width="0.3" >FCR3<tspan dy="-6.6" font-size="7.6">CSA</tspan></text>
<text transform="translate(466.6,521.3) scale(1.045,1)" font-size="11.2" text-anchor="start" font-weight="bold" stroke="#000" stroke-width="0.3" >RBC</text>
</svg></body></html>
